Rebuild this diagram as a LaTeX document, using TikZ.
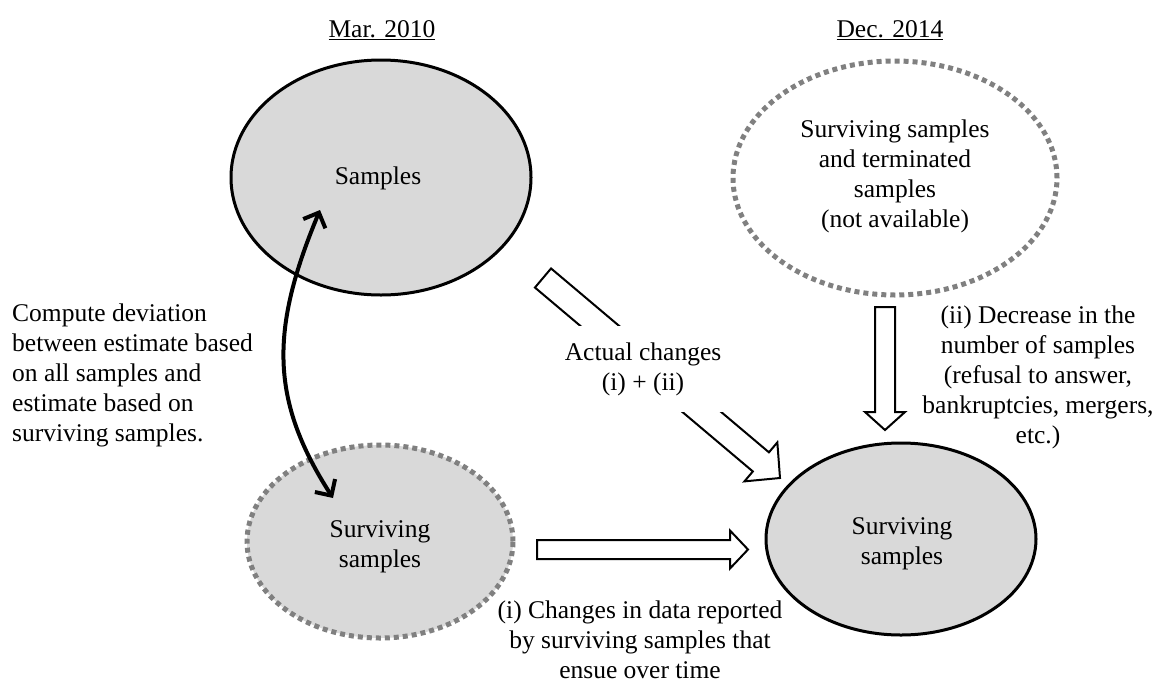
\documentclass[tikz,border=0pt]{standalone}
\usepackage{fontspec}
\setmainfont{Liberation Serif}
\usetikzlibrary{arrows.meta,calc,shapes.geometric}
\definecolor{shade}{RGB}{217,217,217}
\definecolor{dotgray}{RGB}{128,128,128}

% hollow block arrow: #1 tail, #2 tip, #3 half shaft width, #4 half head width, #5 head length
\newcommand\blockarrow[5]{%
  \path ($(#2)!#5!(#1)$) coordinate (ba-h);
  \draw[blockarrow]
    ($(#1)!#3!90:(#2)$) -- ($(ba-h)!#3!90:(#2)$) -- ($(ba-h)!#4!90:(#2)$)
    -- (#2)
    -- ($(ba-h)!#4!-90:(#2)$) -- ($(ba-h)!#3!-90:(#2)$) -- ($(#1)!#3!-90:(#2)$) -- cycle;
}

\begin{document}
\begin{tikzpicture}[x=1pt, y=-1pt,
    font=\fontsize{25.5}{30}\selectfont,
    solidell/.style={ellipse, draw=black, line width=3pt, fill=shade, inner sep=0},
    dotell/.style={ellipse, draw=dotgray, line width=5pt, dash pattern=on 5pt off 4pt, inner sep=0},
    blockarrow/.style={draw=black, line width=2pt, fill=white, line join=miter},
    devarrow/.style={line width=4pt,
      {Straight Barb[length=12pt,width=24pt]}-{Straight Barb[length=12pt,width=24pt]}},
    lbl/.style={inner sep=0, align=center}]
  \useasboundingbox (0,0) rectangle (1163,681);

  % column headings
  \node[anchor=base, inner sep=0] (mar) at (382,37) {\underline{Mar. 2010}};
  \node[anchor=base, inner sep=0] (dec) at (890,37) {\underline{Dec. 2014}};

  % sample sets
  \node[solidell, minimum width=300pt, minimum height=235pt] (samples) at (381,177.5) {};
  \node[dotell, minimum width=324pt, minimum height=234pt] (future) at (895,178) {};
  \node[dotell, fill=shade, minimum width=266pt, minimum height=193pt] (survA) at (380,541.5) {};
  \node[solidell, minimum width=270pt, minimum height=192pt] (survB) at (901,539) {};

  \node[lbl] (samplesT) at (378,178) {Samples};
  \node[lbl] (futureT) at (895,176) {Surviving samples\\and terminated\\samples\\(not available)};
  \node[lbl] (survAT) at (380,547) {Surviving\\samples};
  \node[lbl] (survBT) at (902,544) {Surviving\\samples};

  % deviation between the two Mar. 2010 estimates
  \coordinate (devA) at (320,210);
  \coordinate (devB) at (333,498);
  \draw[devarrow] (devA) .. controls (270,330) and (270,400) .. (devB);
  \node[lbl, anchor=west, align=left] (devT) at (12,375.5)
    {Compute deviation\\between estimate based\\on all samples and\\estimate based on\\surviving samples.};

  % changes over time
  \coordinate (dA) at (543,278);
  \coordinate (dB) at (780,478);
  \blockarrow{dA}{dB}{12.5pt}{25.5pt}{25pt}
  \node[lbl, fill=white, inner xsep=3pt, inner ysep=16pt] (actual) at (643,369)
    {Actual changes\\(i) + (ii)};

  \coordinate (hA) at (537,549.5);
  \coordinate (hB) at (748,549.5);
  \blockarrow{hA}{hB}{9.5pt}{19pt}{18pt}
  \node[lbl] (changeT) at (640,640)
    {(i) Changes in data reported\\by surviving samples that\\ensue over time};

  \coordinate (vA) at (885,307);
  \coordinate (vB) at (885,430);
  \blockarrow{vA}{vB}{10pt}{20pt}{18pt}
  \node[lbl] (decreaseT) at (1038,377.5)
    {(ii) Decrease in the\\number of samples\\(refusal to answer,\\bankruptcies, mergers,\\etc.)};
\end{tikzpicture}
\end{document}
